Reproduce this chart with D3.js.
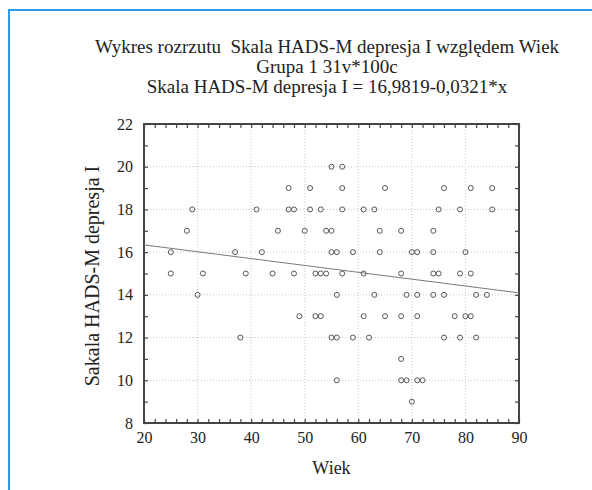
<!DOCTYPE html>
<head>
  <meta charset = "utf-8">
  <title>Wykres rozrzutu</title>
  <script src = "https://cdn.jsdelivr.net/npm/d3@7"></script>
  <style>
  body { margin: 0; background: #fff; }
  svg text { font-family: "Liberation Serif", "Times New Roman", Times, serif; fill: #222; }
  .title text { white-space: pre; }
  .grid line { stroke: #c8c8c8; stroke-dasharray: 1,2; }
  .axis path { display: none; }
  .axis line { stroke: #444; }
  .axis text { font-size: 16px; font-family: "Liberation Serif", "Times New Roman", Times, serif; }
  </style>
</head>

<body>
  <script type="text/javascript">
    var WIDTH = 592;
    var HEIGHT = 490;

    // tytul
    var titleLines = [
      "Wykres rozrzutu  Skala HADS-M depresja I względem Wiek",
      "Grupa 1 31v*100c",
      "Skala HADS-M depresja I = 16,9819-0,0321*x"
    ];
    var xLabel = "Wiek";
    var yLabel = "Sakala HADS-M depresja I";

    // dane: wiek i wynik
    var wiek = [
      55, 57,
      47, 51, 57, 65, 76, 81, 85,
      29, 41, 47, 48, 51, 53, 57, 61, 63, 75, 79, 85,
      28, 45, 50, 54, 55, 64, 68, 74,
      25, 37, 42, 55, 56, 59, 64, 70, 71, 74, 80,
      25, 31, 39, 44, 48, 52, 53, 54, 57, 61, 68, 74, 75, 79, 81,
      30, 56, 63, 69, 71, 74, 76, 82, 84,
      49, 52, 53, 61, 65, 68, 71, 78, 80, 81,
      38, 55, 56, 59, 62, 76, 79, 82,
      68,
      56, 68, 69, 71, 72,
      70
    ];
    var hads = [
      20, 20,
      19, 19, 19, 19, 19, 19, 19,
      18, 18, 18, 18, 18, 18, 18, 18, 18, 18, 18, 18,
      17, 17, 17, 17, 17, 17, 17, 17,
      16, 16, 16, 16, 16, 16, 16, 16, 16, 16, 16,
      15, 15, 15, 15, 15, 15, 15, 15, 15, 15, 15, 15, 15, 15, 15,
      14, 14, 14, 14, 14, 14, 14, 14, 14,
      13, 13, 13, 13, 13, 13, 13, 13, 13, 13,
      12, 12, 12, 12, 12, 12, 12, 12,
      11,
      10, 10, 10, 10, 10,
      9
    ];

    // regresja z tytulu
    var intercept = 16.9819;
    var slope = -0.0321;

    var xDomain = [20, 90];
    var yDomain = [8, 22];
    var xTicks = d3.range(20, 91, 2);
    var yTicks = d3.range(8, 23, 1);

    var pLeft = 144, pRight = 519, pTop = 124, pBottom = 423;

    var svg = d3.select("body").append("svg")
                .attr("width", WIDTH)
                .attr("height", HEIGHT);

    // niebieska ramka
    svg.append("path")
      .attr("d", "M9," + HEIGHT + "V10H" + WIDTH)
      .attr("fill", "none")
      .attr("stroke", "#2f9be3")
      .attr("stroke-width", 2);

    var x = d3.scaleLinear().domain(xDomain).range([pLeft, pRight]);
    var y = d3.scaleLinear().domain(yDomain).range([pBottom, pTop]);

    // siatka
    var grid = svg.append("g").attr("class", "grid");
    grid.selectAll(".gx")
      .data(d3.range(30, 90, 10))
      .enter().append("line")
      .attr("x1", function(d){ return x(d); })
      .attr("x2", function(d){ return x(d); })
      .attr("y1", pTop).attr("y2", pBottom);
    grid.selectAll(".gy")
      .data(d3.range(10, 22, 2))
      .enter().append("line")
      .attr("y1", function(d){ return y(d); })
      .attr("y2", function(d){ return y(d); })
      .attr("x1", pLeft).attr("x2", pRight);

    // osie
    var fmtX = function(d){ return d % 10 === 0 ? d : ""; };
    var fmtY = function(d){ return d % 2 === 0 ? d : ""; };

    svg.append("g").attr("class", "axis")
      .attr("transform", "translate(0," + pBottom + ")")
      .call(d3.axisBottom(x).tickValues(xTicks).tickSize(-4).tickSizeOuter(0).tickPadding(9).tickFormat(fmtX));
    svg.append("g").attr("class", "axis")
      .attr("transform", "translate(0," + pTop + ")")
      .call(d3.axisTop(x).tickValues(xTicks).tickSize(-4).tickSizeOuter(0).tickFormat(""));
    svg.append("g").attr("class", "axis")
      .attr("transform", "translate(" + pLeft + ",0)")
      .call(d3.axisLeft(y).tickValues(yTicks).tickSize(-4).tickSizeOuter(0).tickPadding(11).tickFormat(fmtY));
    svg.append("g").attr("class", "axis")
      .attr("transform", "translate(" + pRight + ",0)")
      .call(d3.axisRight(y).tickValues(yTicks).tickSize(-4).tickSizeOuter(0).tickFormat(""));

    svg.selectAll(".axis .tick line").attr("stroke-width", 1.2);
    svg.selectAll(".axis").attr("font-family", null).attr("font-size", null);

    // ramka wykresu
    svg.append("rect")
      .attr("x", pLeft).attr("y", pTop)
      .attr("width", pRight - pLeft).attr("height", pBottom - pTop)
      .attr("fill", "none")
      .attr("stroke", "#444")
      .attr("stroke-width", 2);

    // linia regresji
    svg.append("line")
      .attr("x1", x(xDomain[0])).attr("y1", y(intercept + slope * xDomain[0]))
      .attr("x2", x(xDomain[1])).attr("y2", y(intercept + slope * xDomain[1]))
      .attr("stroke", "#7a7a7a")
      .attr("stroke-width", 1);

    // punkty
    svg.append("g")
      .selectAll("circle")
      .data(wiek)
      .enter().append("circle")
      .attr("cx", function(d){ return x(d); })
      .attr("cy", function(d, i){ return y(hads[i]); })
      .attr("r", 2.5)
      .attr("fill", "none")
      .attr("stroke", "#555")
      .attr("stroke-width", 1);

    // tytul
    svg.append("g").attr("class", "title")
      .selectAll("text")
      .data(titleLines)
      .enter().append("text")
      .attr("x", 327)
      .attr("y", function(d, i){ return 53 + i * 20; })
      .attr("text-anchor", "middle")
      .style("font-size", "19px")
      .text(function(d){ return d; });

    svg.append("text")
      .attr("x", (pLeft + pRight) / 2)
      .attr("y", 474)
      .attr("text-anchor", "middle")
      .style("font-size", "18px")
      .text(xLabel);

    svg.append("text")
      .attr("transform", "translate(99,276) rotate(-90)")
      .attr("text-anchor", "middle")
      .style("font-size", "20px")
      .text(yLabel);
  </script>
</body>
